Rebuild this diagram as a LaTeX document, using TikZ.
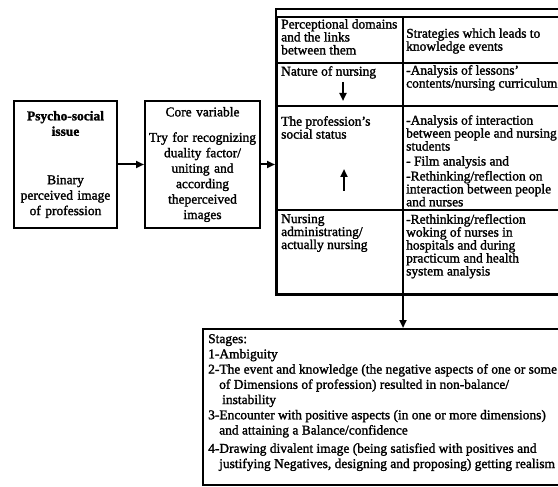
\documentclass[tikz,border=0pt]{standalone}
\usepackage{fontspec}
\setmainfont{Liberation Serif}[RawFeature={embolden=1.6}]
\usepackage{tikz}
\usetikzlibrary{arrows.meta, positioning}
\tikzset{
>={Triangle[length=8bp,width=7bp]}, % filled arrow heads
box/.style={draw, line width=2bp, align=center, inner sep=0pt, font=\fontsize{13.5}{15.5}\selectfont}, % the two boxes on the left
outerframe/.style={draw, line width=2.2bp, anchor=north west, inner sep=0pt}, % frame round the table
cell/.style={draw, line width=1.3bp, anchor=north west, inner sep=0pt, outer sep=0pt}, % one cell of the table
celltext/.style={anchor=north west, align=left, inner sep=0pt, font=\fontsize{13.5}{13}\selectfont}, % text in a cell
link/.style={->, line width=2bp}, % connectors
}

\begin{document}
\begin{tikzpicture}[x=1bp, y=-1bp]
      \useasboundingbox (0,0) rectangle (558,487);

      \node[box, text width=103bp, minimum height=127bp] (issue) at (65.5,164.5) {\textbf{Psycho-social}\\\textbf{issue}\\[33bp]Binary\\perceived image\\of profession\\[4bp]};
      \node[box, text width=115bp, minimum height=127bp, right=26bp of issue] (core) {Core variable\\[10bp]Try for recognizing\\duality factor/\\uniting and\\according\\theperceived\\images};

      % table of domains and strategies
      \node[outerframe, minimum width=300bp, minimum height=286bp] (domains) at (275,8) {};
      \node[cell, minimum width=126bp, minimum height=46bp] (headL) at (277,17) {};
      \node[cell, minimum width=172bp, minimum height=46bp] (headR) at (headL.north east) {};
      \node[cell, minimum width=126bp, minimum height=43bp] (natL) at (headL.south west) {};
      \node[cell, minimum width=172bp, minimum height=43bp] (natR) at (natL.north east) {};
      \node[cell, minimum width=126bp, minimum height=104bp] (statL) at (natL.south west) {};
      \node[cell, minimum width=172bp, minimum height=104bp] (statR) at (statL.north east) {};
      \node[cell, minimum width=126bp, minimum height=84bp] (adminL) at (statL.south west) {};
      \node[cell, minimum width=172bp, minimum height=84bp] (adminR) at (adminL.north east) {};

      \node[celltext] (headLtext) at ([xshift=4bp,yshift=-2bp]headL.north west) {Perceptional domains\\and the links\\between them};
      \node[celltext, anchor=west] (headRtext) at ([xshift=3bp,yshift=-1bp]headR.west) {Strategies which leads to\\knowledge events};
      \node[celltext] (natLtext) at ([xshift=4bp,yshift=-3bp]natL.north west) {Nature of nursing};
      \node[celltext] (natRtext) at ([xshift=3bp,yshift=-2bp]natR.north west) {-Analysis of lessons'\\contents/nursing curriculum};
      \node[celltext] (statLtext) at ([xshift=4bp,yshift=-10bp]statL.north west) {The profession's\\social status};
      \node[celltext] (statRtext) at ([xshift=3bp,yshift=-9bp]statR.north west) {-Analysis of interaction\\between people and nursing\\students\\[2bp]- Film analysis and\\[2bp]-Rethinking/reflection on\\interaction between people\\and nurses};
      \node[celltext] (adminLtext) at ([xshift=4bp,yshift=-4bp]adminL.north west) {Nursing\\administrating/\\actually nursing};
      \node[celltext] (adminRtext) at ([xshift=3bp,yshift=-4bp]adminR.north west) {-Rethinking/reflection\\woking of nurses in\\hospitals and during\\practicum and health\\system analysis};

      \coordinate (natA) at (343,82);
      \coordinate (natB) at (343,101);
      \coordinate (statA) at (344,191);
      \coordinate (statB) at (344,169);

      % stages
      \node[draw, line width=2bp, anchor=north west, minimum width=373bp, minimum height=156bp, inner sep=0pt] (stages) at (202,328) {};
      \node[celltext, font=\fontsize{13.5}{15.3}\selectfont] (stagelist) at ([xshift=6bp,yshift=-6bp]stages.north west) {Stages:\\1-Ambiguity\\2-The event and knowledge (the negative aspects of one or some\\\hspace*{11bp}of Dimensions of profession) resulted in non-balance/\\\hspace*{14bp}instability\\3-Encounter with positive aspects (in one or more dimensions)\\\hspace*{11bp}and attaining a Balance/confidence\\[3bp]4-Drawing divalent image (being satisfied with positives and\\\hspace*{11bp}justifying Negatives, designing and proposing) getting realism};

      \draw[link] (issue) -- (core);
      \draw[link] (core.east) -- (core.east -| domains.west);
      \draw[link] (natA) -- (natB);
      \draw[link] (statA) -- (statB);
      \draw[link] (adminL.south east) -- (adminL.south east |- stages.north);
    \end{tikzpicture}
\end{document}
